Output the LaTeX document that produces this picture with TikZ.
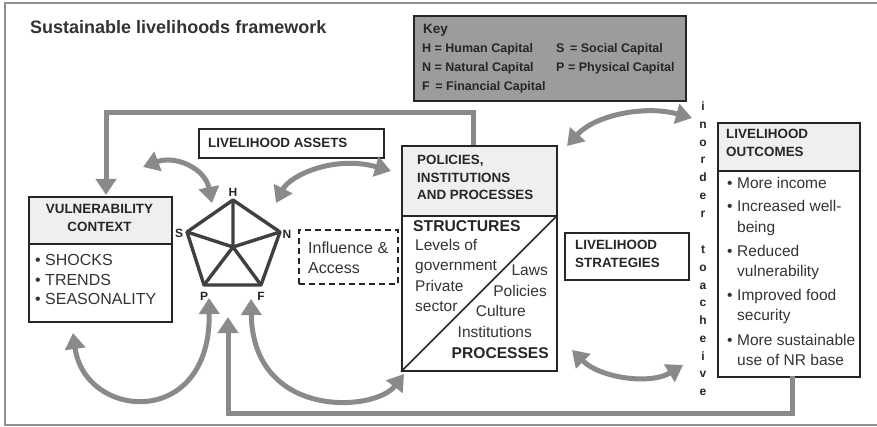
\documentclass[tikz,border=0pt]{standalone}
\usepackage{fontspec}
\setmainfont{Liberation Sans}
\usetikzlibrary{arrows.meta}
\definecolor{agray}{HTML}{8A8A8A}
\definecolor{hgray}{HTML}{EFEFEF}
\definecolor{kgray}{HTML}{9C9C9C}
\definecolor{ink}{HTML}{262626}
\definecolor{txt}{HTML}{333333}
\definecolor{fgray}{HTML}{8F8F8F}
\newcommand\fsz[2]{\fontsize{#1}{#2}\selectfont}
\begin{document}
\begin{tikzpicture}[x=1pt,y=-1pt,
  box/.style={draw=ink, line width=1.8pt, inner sep=0, anchor=north west},
  hbox/.style={box, fill=hgray},
  tx/.style={inner sep=0, text=txt, font=\fsz{16}{19}},
  tb/.style={inner sep=0, text=ink, font=\bfseries\fsz{13.4}{16}},
  tk/.style={inner sep=0, text=ink, font=\bfseries\fsz{12.5}{15}, anchor=base west},
  lab/.style={inner sep=0, text=ink, font=\bfseries\fsz{12}{14}, anchor=base},
  pent/.style={draw=black!75, line width=3.4pt, line join=round},
  ahead/.tip={Triangle[width=20pt,length=16pt]},
  garrow/.style={draw=agray, line width=5pt, -ahead},
  gdbl/.style={draw=agray, line width=5pt, ahead-ahead},
]
\useasboundingbox (0,0) rectangle (877,427);
% outer frame
\draw[fgray, line width=1.5pt] (5,3) rectangle (880,425);

% title
\node[anchor=base west, inner sep=0, font=\bfseries\fsz{18}{20}, text=txt] (title) at (30,33.5) {Sustainable livelihoods framework};

% key
\node[box, fill=kgray, minimum width=272, minimum height=85] (key) at (413,15) {};
\node[tk, font=\bfseries\fsz{13.5}{16}] (keyt) at (423,34) {Key};
\node[tk] (k1) at (422,52.5) {H = Human Capital};
\node[tk] (k2) at (422,71.5) {N = Natural Capital};
\node[tk] (k3) at (422,90.5) {F\,\ = Financial Capital};
\node[tk] (k4) at (556,52.5) {S\,\ = Social Capital};
\node[tk] (k5) at (556,71.5) {P = Physical Capital};

% livelihood assets
\node[box, minimum width=185, minimum height=29] (assets) at (198,128) {};
\node[tb, anchor=base west] (assetst) at (208,148) {LIVELIHOOD ASSETS};

% vulnerability context
\node[hbox, minimum width=143, minimum height=47] (vulhead) at (28,196) {};
\node[box, minimum width=143, minimum height=78] (vulbody) at (28,243) {};
\node[tb, anchor=base] (vul1) at (99.5,214) {VULNERABILITY};
\node[tb, anchor=base] (vul2) at (99.5,232) {CONTEXT};
\node[tx, anchor=base west] (vb1) at (35,266) {\textbullet\ SHOCKS};
\node[tx, anchor=base west] (vb2) at (35,285.5) {\textbullet\ TRENDS};
\node[tx, anchor=base west] (vb3) at (35,305) {\textbullet\ SEASONALITY};

% pentagon
\coordinate (pH) at (233,200);
\coordinate (pS) at (187,232);
\coordinate (pN) at (280,232);
\coordinate (pP) at (204,285);
\coordinate (pF) at (261,285);
\coordinate (pC) at (233,247);
\draw[pent] (pH) -- (pN) -- (pF) -- (pP) -- (pS) -- cycle;
\draw[pent] (pH) -- (pC) (pS) -- (pC) (pN) -- (pC) (pP) -- (pC) (pF) -- (pC);
\node[lab] (lH) at (233,197) {H};
\node[lab] (lS) at (179,237.5) {S};
\node[lab] (lN) at (287,238.5) {N};
\node[lab] (lP) at (204,300.5) {P};
\node[lab] (lF) at (261,300.5) {F};

% influence & access
\node[box, dashed, dash pattern=on 6pt off 4pt, line width=1.6pt, minimum width=99, minimum height=54] (infl) at (298,229) {};
\node[tx, anchor=base west] (infl1) at (308,254) {Influence \&};
\node[tx, anchor=base west] (infl2) at (308,273) {Access};

% policies, institutions and processes
\node[hbox, minimum width=155, minimum height=70] (piphead) at (401,145) {};
\node[box, minimum width=155, minimum height=155] (pipbody) at (401,215) {};
\draw[ink, line width=1.6pt] (pipbody.south west) -- (pipbody.north east);
\node[tb, anchor=base west] (pip1) at (417,165) {POLICIES,};
\node[tb, anchor=base west] (pip2) at (417,183) {INSTITUTIONS};
\node[tb, anchor=base west] (pip3) at (417,199.5) {AND PROCESSES};
\node[tb, font=\bfseries\fsz{15.7}{18}, anchor=base west] (struct) at (413,231.5) {STRUCTURES};
\node[tx, font=\fsz{15.5}{18}, anchor=base west] (s1) at (415,251) {Levels of};
\node[tx, font=\fsz{15.5}{18}, anchor=base west] (s2) at (415,271) {government};
\node[tx, font=\fsz{15.5}{18}, anchor=base west] (s3) at (415,291) {Private};
\node[tx, font=\fsz{15.5}{18}, anchor=base west] (s4) at (415,311) {sector};
\node[tx, font=\fsz{15.5}{18}, anchor=base east] (r1) at (548,276) {Laws};
\node[tx, font=\fsz{15.5}{18}, anchor=base east] (r2) at (547,296) {Policies};
\node[tx, font=\fsz{15.5}{18}, anchor=base east] (r3) at (526,316.5) {Culture};
\node[tx, font=\fsz{15.5}{18}, anchor=base east] (r4) at (532,337) {Institutions};
\node[tb, font=\bfseries\fsz{15.6}{18}, anchor=base east] (proc) at (549,358) {PROCESSES};

% livelihood strategies
\node[box, minimum width=124, minimum height=47] (strat) at (564,232) {};
\node[tb, anchor=base west] (strat1) at (575,250) {LIVELIHOOD};
\node[tb, anchor=base west] (strat2) at (575,268) {STRATEGIES};

% vertical "in order to acheive"
\foreach \ch/\yy [count=\k] in {i/107,n/125,o/143,r/160,d/178,e/196,r/214,t/250,o/268,a/286,c/303,h/321,e/339,i/357,v/374,e/392}
  \node[lab, font=\bfseries\fsz{12}{14}] (vl\k) at (703,\yy+3.5) {\ch};

% livelihood outcomes
\node[hbox, minimum width=142, minimum height=48] (outhead) at (717,122) {};
\node[box, minimum width=142, minimum height=206] (outbody) at (717,170) {};
\node[tb, anchor=base west] (out1) at (726,139) {LIVELIHOOD};
\node[tb, anchor=base west] (out2) at (726,157) {OUTCOMES};
\begin{scope}[every node/.style={tx, font=\fsz{15.5}{18}, anchor=base west}]
\node (ob1) at (727,189) {\textbullet};
\node (o1) at (737,189) {More income};
\node (ob2) at (727,212) {\textbullet};
\node (o2) at (737,212) {Increased well-};
\node (o2b) at (737,232.5) {being};
\node (ob3) at (727,257) {\textbullet};
\node (o3) at (737,257) {Reduced};
\node (o3b) at (737,277) {vulnerability};
\node (ob4) at (727,301) {\textbullet};
\node (o4) at (737,301) {Improved food};
\node (o4b) at (737,320.5) {security};
\node (ob5) at (727,345) {\textbullet};
\node (o5) at (737,345) {More sustainable};
\node (o5b) at (737,365) {use of NR base};
\end{scope}

% feedback arrows
\coordinate (tf1) at (473,145);
\coordinate (tf2) at (473,113);
\coordinate (tf3) at (106,113);
\coordinate (tf4) at (106,195);
\draw[garrow] (tf1) -- (tf2) -- (tf3) -- (tf4);

\coordinate (bf1) at (792,376);
\coordinate (bf2) at (792,413);
\coordinate (bf3) at (228,413);
\coordinate (bf4) at (228,317);
\draw[garrow] (bf1) -- (bf2) -- (bf3) -- (bf4);

% curved double arrows
\coordinate (c3a) at (73,333);
\coordinate (c3b) at (209,298);
\draw[gdbl] (c3a) .. controls (85,420) and (211,430) .. (c3b);

\coordinate (c4a) at (251,299);
\coordinate (c4b) at (404,374);
\draw[gdbl] (c4a) .. controls (253,420) and (375,412) .. (c4b);

\coordinate (c5a) at (143,167);
\coordinate (c5b) at (212,203);
\draw[gdbl] (c5a) .. controls (175,155) and (205,168) .. (c5b);

\coordinate (c6a) at (276,203);
\coordinate (c6b) at (391,171);
\draw[gdbl] (c6a) .. controls (290,175) and (335,155) .. (c6b);

\coordinate (c7a) at (567,146);
\coordinate (c7b) at (692,118);
\draw[gdbl] (c7a) .. controls (595,115) and (645,105) .. (c7b);

\coordinate (c8a) at (572,350);
\coordinate (c8b) at (683,365);
\draw[gdbl] (c8a) .. controls (600,378) and (650,385) .. (c8b);
\end{tikzpicture}
\end{document}
